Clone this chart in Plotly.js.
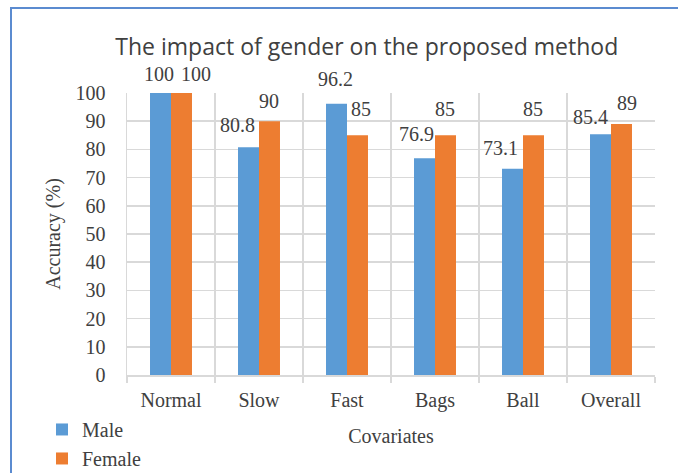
<!DOCTYPE html>
<html>
<head>
<meta charset="utf-8">
<script src="https://cdn.plot.ly/plotly-3.0.1.min.js"></script>
<style>
html,body{margin:0;padding:0;background:#fff;}
#wrap{position:relative;width:678px;height:473px;overflow:hidden;}
#chart{position:absolute;left:0;top:0;width:678px;height:473px;}
#frame{position:absolute;left:10px;top:7px;width:800px;height:600px;border-top:2px solid #5b8bd0;border-left:2px solid #5b8bd0;pointer-events:none;}
#chart svg text{font-family:"Liberation Serif","Times New Roman",serif !important;}
#chart svg text.gtitle{font-family:"Open Sans","Noto Sans",sans-serif !important;}
</style>
</head>
<body>
<div id="wrap"><div id="chart"></div><div id="frame"></div></div>
<script>
// ---- data ----
const categories = ["Normal", "Slow", "Fast", "Bags", "Ball", "Overall"];
const maleValues = [100, 80.8, 96.2, 76.9, 73.1, 85.4];
const femaleValues = [100, 90, 85, 85, 85, 89];
const maleLabels = ["100", "80.8", "96.2", "76.9", "73.1", "85.4"];
const femaleLabels = ["100", "90", "85", "85", "85", "89"];

// ---- label nudges (style only, in px) mimicking the original label placement ----
const maleNudgeX = [-2, -11, -1, -8, -12, -10];
const femaleNudgeX = [15, 0, 4, 0, 0, 6];
const maleNudgeY = [6, 9, 12, 11, 8, 4];
const femaleNudgeY = [6, 7, 13, 13, 13, 8];

const serif = '"Liberation Serif", "Times New Roman", serif';
const txt = '#404040';
const fs = 20;

const W = 678, H = 473;
const M = {l:127, r:23, t:93, b:98};
const bargap = 0.523;
const catPx = (W - M.l - M.r) / categories.length;
const barPx = catPx * (1 - bargap) / 2;

const traces = [
  {type:'bar', name:'Male', x:categories, y:maleValues, marker:{color:'#5b9bd5'}, hoverinfo:'x+y'},
  {type:'bar', name:'Female', x:categories, y:femaleValues, marker:{color:'#ed7d31'}, hoverinfo:'x+y'}
];

const annotations = [];
categories.forEach((c, i) => {
  annotations.push({x:c, y:maleValues[i], xref:'x', yref:'y', text:maleLabels[i], showarrow:false,
    xanchor:'center', yanchor:'bottom', xshift:-barPx/2 + maleNudgeX[i], yshift:maleNudgeY[i],
    font:{family:serif, size:fs, color:txt}});
  annotations.push({x:c, y:femaleValues[i], xref:'x', yref:'y', text:femaleLabels[i], showarrow:false,
    xanchor:'center', yanchor:'bottom', xshift:barPx/2 + femaleNudgeX[i], yshift:femaleNudgeY[i],
    font:{family:serif, size:fs, color:txt}});
});

const layout = {
  width:W, height:H,
  margin:{l:M.l, r:M.r, t:M.t, b:M.b, autoexpand:false},
  paper_bgcolor:'#fff', plot_bgcolor:'#fff',
  barmode:'group', bargap:bargap, bargroupgap:0,
  title:{text:'The impact of gender on the proposed method', x:0.541, xanchor:'center', xref:'container',
         y:0.9, yref:'container', yanchor:'middle',
         font:{family:'"Open Sans", "Noto Sans", sans-serif', size:23, color:txt}},
  xaxis:{type:'category', tickson:'boundaries', showgrid:true, gridcolor:'#d9d9d9', gridwidth:1.5,
         showline:true, linecolor:'#d9d9d9', linewidth:1.5, ticks:'outside', ticklen:6, tickcolor:'#d9d9d9', tickwidth:1.5,
         tickfont:{family:serif, size:fs, color:txt}, ticklabelstandoff:6,
         title:{text:'Covariates', font:{family:serif, size:fs, color:txt}, standoff:18},
         zeroline:false},
  yaxis:{range:[0,100], dtick:10, tick0:0, showgrid:true, gridcolor:'#d9d9d9', gridwidth:1.5,
         showline:true, linecolor:'#d9d9d9', linewidth:1.5, ticks:'', zeroline:false,
         tickfont:{family:serif, size:fs, color:txt}, ticklabelstandoff:16,
         title:{text:'Accuracy (%)', font:{family:serif, size:fs, color:txt}, standoff:9}},
  showlegend:true,
  legend:{orientation:'v', x:-0.161, xanchor:'left', y:-0.124, yanchor:'top',
          font:{family:serif, size:fs, color:txt}, bgcolor:'rgba(0,0,0,0)',
          tracegroupgap:0, itemwidth:30},
  annotations:annotations,
  font:{family:serif, color:txt}
};

Plotly.newPlot('chart', traces, layout, {displayModeBar:false, staticPlot:true});
</script>
</body>
</html>
